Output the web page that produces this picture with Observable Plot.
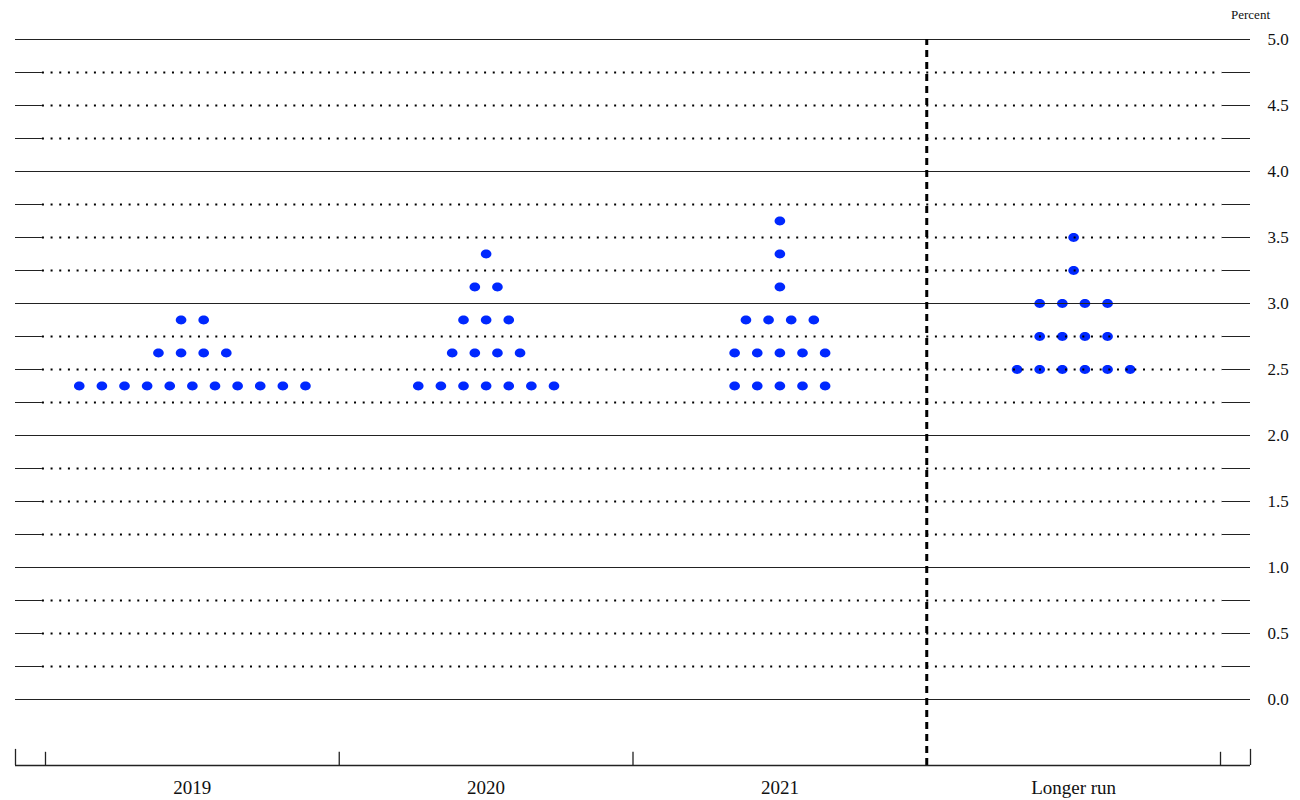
<!DOCTYPE html>
<html>
<head>
<meta charset="utf-8">
<script src="https://cdn.jsdelivr.net/npm/d3@7"></script>
<script src="https://cdn.jsdelivr.net/npm/@observablehq/plot@0.6"></script>
<style>
  html, body { margin: 0; padding: 0; background: #fff; }
  #chart svg { display: block; }
</style>
</head>
<body>
<div id="chart"></div>
<script>
// Categories (projection horizons)
const categories = ["2019", "2020", "2021", "Longer run"];

// Participants' projections: [rate midpoint, number of participants]
const dots2019 = [[2.375, 11], [2.625, 4], [2.875, 2]];
const dots2020 = [[2.375, 7], [2.625, 4], [2.875, 3], [3.125, 2], [3.375, 1]];
const dots2021 = [[2.375, 5], [2.625, 5], [2.875, 4], [3.125, 1], [3.375, 1], [3.625, 1]];
const dotsLongerRun = [[2.5, 6], [2.75, 4], [3.0, 4], [3.25, 1], [3.5, 1]];

// Axis ticks
const yLabelTicks = [0, 0.5, 1, 1.5, 2, 2.5, 3, 3.5, 4, 4.5, 5];
const gridValues = d3.range(0, 5.0001, 0.25);

const groups = [dots2019, dots2020, dots2021, dotsLongerRun];
const spacing = 0.077; // horizontal spacing between dots in band units
const dots = [];
groups.forEach((g, i) => {
  g.forEach(([rate, n]) => {
    for (let k = 0; k < n; k++) {
      dots.push({category: categories[i], rate, pos: i + 0.5 + (k - (n - 1) / 2) * spacing});
    }
  });
});

const ellipse = {
  draw(ctx) {
    const a = 5.3, b = 4.4, c = 0.5523;
    ctx.moveTo(a, 0);
    ctx.bezierCurveTo(a, c * b, c * a, b, 0, b);
    ctx.bezierCurveTo(-c * a, b, -a, c * b, -a, 0);
    ctx.bezierCurveTo(-a, -c * b, -c * a, -b, 0, -b);
    ctx.bezierCurveTo(c * a, -b, a, -c * b, a, 0);
    ctx.closePath();
  }
};

const xMin = -0.1021, xMax = 4.1021;
const solid = gridValues.filter(v => Math.abs(v - Math.round(v)) < 1e-9);
const dotted = gridValues.filter(v => Math.abs(v - Math.round(v)) >= 1e-9);
const font = "'Liberation Serif', 'DejaVu Serif', serif";

const chart = Plot.plot({
  width: 1300,
  height: 800,
  marginLeft: 15,
  marginRight: 50,
  marginTop: 39,
  marginBottom: 35,
  style: {fontFamily: font, background: "#fff", overflow: "visible"},
  x: {type: "linear", domain: [xMin, xMax], axis: null},
  y: {domain: [-0.5, 5], axis: null},
  marks: [
    Plot.dot(dots, {x: "pos", y: "rate", symbol: ellipse, fill: "#0028ff", stroke: "none", r: 5}),
    // solid gridlines at integer values
    Plot.ruleY(solid, {x1: xMin, x2: xMax, stroke: "#222", strokeWidth: 1}),
    // dotted gridlines with short solid end segments
    Plot.ruleY(dotted, {x1: -0.0105, x2: 4.004, stroke: "#000", strokeWidth: 2, strokeDasharray: "2,6.67"}),
    Plot.ruleY(dotted, {x1: xMin, x2: -0.0105, stroke: "#222", strokeWidth: 1}),
    Plot.ruleY(dotted, {x1: 4.006, x2: xMax, stroke: "#222", strokeWidth: 1}),
    // vertical dashed separator
    Plot.ruleX([3], {y1: -0.5, y2: 5, stroke: "#000", strokeWidth: 3, strokeDasharray: "7,5"}),
    // bottom axis line and ticks
    Plot.ruleY([-0.5], {x1: xMin, x2: xMax, stroke: "#222", strokeWidth: 1.3}),
    Plot.ruleX([xMin, xMax], {y1: -0.5, y2: -0.378, stroke: "#222", strokeWidth: 1.3}),
    Plot.ruleX([0, 1, 2, 4], {y1: -0.5, y2: -0.4, stroke: "#222", strokeWidth: 1.3}),
    // category labels
    Plot.text(categories, {x: (d, i) => i + 0.5, y: -0.5, text: d => d, dy: 22, fontSize: 19, fill: "#111"}),
    // right y labels
    Plot.text(yLabelTicks, {x: xMax, y: d => d, text: d => d.toFixed(1), dx: 17, textAnchor: "start", fontSize: 17, fill: "#111"}),
    Plot.text(["Percent"], {x: xMax, y: 5, text: d => d, dy: -25, fontSize: 13, fill: "#111"})
  ]
});

document.getElementById("chart").appendChild(chart);
</script>
</body>
</html>
